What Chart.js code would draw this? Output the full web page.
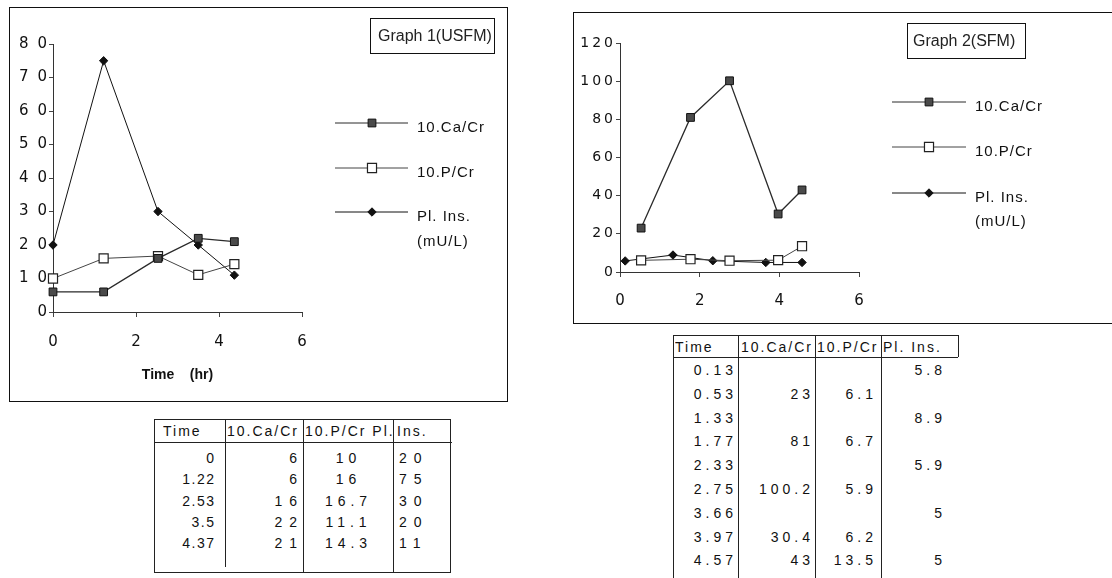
<!DOCTYPE html>
<html><head><meta charset="utf-8">
<title>Graph 1 (USFM) and Graph 2 (SFM)</title>
<script src="https://cdn.jsdelivr.net/npm/chart.js@4.4.1/dist/chart.umd.min.js"></script>
<style>
html,body{margin:0;padding:0;background:#fff;}
body{width:1112px;height:578px;overflow:hidden;position:relative;font-family:"Liberation Sans",Arial,sans-serif;color:#111;}
.frame{position:absolute;box-sizing:border-box;border:1px solid #111;}
.tbox{position:absolute;box-sizing:border-box;border:1px solid #111;font-size:16px;display:flex;align-items:center;color:#222;white-space:nowrap;}
canvas{position:absolute;}
.hl{position:absolute;height:0;border-top:1px solid #222;}
.vl{position:absolute;width:0;border-left:1px solid #222;}
.cell{position:absolute;font-size:14px;white-space:nowrap;line-height:16px;height:16px;color:#111;overflow:hidden;}
</style></head><body>
<div class="frame" style="left:9px;top:7px;width:499px;height:395px"></div>
<canvas id="c1" width="496" height="392" style="left:10px;top:8px"></canvas>
<div class="tbox" style="left:370px;top:18px;width:125px;height:36px;padding-left:7px">Graph 1(USFM)</div>
<div class="frame" style="left:573px;top:12px;width:600px;height:312px"></div>
<canvas id="c2" width="538" height="310" style="left:574px;top:13px"></canvas>
<div class="tbox" style="left:907px;top:23px;width:119px;height:36px;padding-left:5px">Graph 2(SFM)</div>
<div id="t1"></div><div id="t2"></div>
<script>
// ---------- data ----------
const times1 = [0, 1.22, 2.53, 3.5, 4.37];
const caCr1  = [6, 6, 16, 22, 21];
const pCr1   = [10, 16, 16.7, 11.1, 14.3];
const plIns1 = [20, 75, 30, 20, 11];

const times2 = [0.13, 0.53, 1.33, 1.77, 2.33, 2.75, 3.66, 3.97, 4.57];
const caCr2  = [null, 23, null, 81, null, 100.2, null, 30.4, 43];
const pCr2   = [null, 6.1, null, 6.7, null, 5.9, null, 6.2, 13.5];
const plIns2 = [5.8, null, 8.9, null, 5.9, null, 5, null, 5];

const seriesNames = ['10.Ca/Cr', '10.P/Cr', 'Pl. Ins.'];
const seriesSub   = ['', '', '(mU/L)'];
const xTicks  = [0, 2, 4, 6];
const yTicks1 = [0, 10, 20, 30, 40, 50, 60, 70, 80];
const yTicks2 = [0, 20, 40, 60, 80, 100, 120];
const xTitle1 = 'Time    (hr)';
const header1 = ['Time', '10.Ca/Cr', '10.P/Cr Pl.', 'Ins.'];
const header2 = ['Time', '10.Ca/Cr', '10.P/Cr', 'Pl. Ins.'];

// ---------- helpers ----------
const pts = (xs, ys) => xs.map((x, i) => ({x: x, y: ys[i]})).filter(p => p.y !== null);

const styles = [
  {borderColor:'#2a2a2a', borderWidth:1.3, pointStyle:'rect', pointRadius:5.5, pointBackgroundColor:'#4a4a4a', pointBorderColor:'#111', pointBorderWidth:1},
  {borderColor:'#444', borderWidth:1, pointStyle:'rect', pointRadius:6.4, pointBackgroundColor:'#fff', pointBorderColor:'#222', pointBorderWidth:1.2},
  {borderColor:'#111', borderWidth:1, pointStyle:'rectRot', pointRadius:4.2, pointBackgroundColor:'#111', pointBorderColor:'#111', pointBorderWidth:1}
];

function drawMarker(ctx, ds, x, y) {
  ctx.save();
  ctx.fillStyle = ds.pointBackgroundColor;
  ctx.strokeStyle = ds.pointBorderColor;
  ctx.lineWidth = ds.pointBorderWidth;
  ctx.beginPath();
  const r = ds.pointRadius;
  if (ds.pointStyle === 'rect') {
    const h = r * Math.SQRT1_2;
    ctx.rect(x - h, y - h, 2 * h, 2 * h);
  } else {
    ctx.moveTo(x, y - r); ctx.lineTo(x + r, y); ctx.lineTo(x, y + r); ctx.lineTo(x - r, y); ctx.closePath();
  }
  ctx.fill(); ctx.stroke();
  ctx.restore();
}

const sideLegend = {
  id: 'sideLegend',
  afterDatasetsDraw(chart, args, o) {
    const ctx = chart.ctx;
    chart.data.datasets.forEach((ds, i) => {
      const y = o.rows[i];
      ctx.save();
      ctx.strokeStyle = ds.borderColor; ctx.lineWidth = 1;
      ctx.beginPath(); ctx.moveTo(o.x1, y); ctx.lineTo(o.x2, y); ctx.stroke();
      drawMarker(ctx, ds, o.xm, y);
      ctx.fillStyle = '#111';
      ctx.font = '15px "Liberation Sans", Arial, sans-serif';
      ctx.letterSpacing = '1px';
      ctx.textBaseline = 'middle'; ctx.textAlign = 'left';
      ctx.fillText(seriesNames[i], o.xt, y + 5);
      if (seriesSub[i]) ctx.fillText(seriesSub[i], o.xt, o.subY);
      ctx.restore();
    });
  }
};

function yScale(ticks, width, ls, fontSize, pad) {
  return {
    type: 'linear', min: ticks[0], max: ticks[ticks.length - 1],
    afterBuildTicks: s => { s.ticks = ticks.map(v => ({value: v})); },
    afterFit: s => {
      s.width = width;
      if (!s.__ls) {
        const orig = s.drawLabels;
        s.drawLabels = function (a) { const c = this.ctx; c.save(); c.letterSpacing = ls; orig.call(this, a); c.restore(); };
        s.__ls = true;
      }
    },
    ticks: {color:'#111', padding: pad, font:{family:'"DejaVu Sans", "Liberation Sans", sans-serif', size: fontSize}},
    grid: {display:true, drawOnChartArea:false, drawTicks:true, tickLength:4, color:'#444'},
    border: {display:true, color:'#333', width:1}
  };
}
function xScale(height, pad, title) {
  return {
    type: 'linear', min: xTicks[0], max: xTicks[xTicks.length - 1],
    afterBuildTicks: s => { s.ticks = xTicks.map(v => ({value: v})); },
    afterFit: s => { s.height = height; },
    ticks: {color:'#111', padding: pad, font:{family:'"DejaVu Sans", "Liberation Sans", sans-serif', size:15}},
    grid: {display:true, drawOnChartArea:false, drawTicks:true, tickLength:5, color:'#444'},
    border: {display:true, color:'#333', width:1},
    title: title ? {display:true, text:title, color:'#111', font:{family:'"Liberation Sans", Arial, sans-serif', size:14, weight:'bold'}, padding:{top:0, bottom:16.6}} : {display:false}
  };
}
function datasets(xs, a, b, c) {
  return [a, b, c].map((ys, i) => Object.assign({label: seriesNames[i], data: pts(xs, ys), clip: false, tension: 0, fill: false}, styles[i]));
}

new Chart(document.getElementById('c1'), {
  type: 'line',
  data: {datasets: datasets(times1, caCr1, pCr1, plIns1)},
  options: {
    responsive: false, animation: false, events: [],
    layout: {padding: {left:0, top:36, right:204, bottom:0}},
    plugins: {legend:{display:false}, tooltip:{enabled:false},
      sideLegend: {x1:325, x2:398, xm:362, xt:407, rows:[115, 160, 204], subY:234}},
    scales: {x: xScale(88, 16, xTitle1), y: yScale(yTicks1, 43, '9px', 15, -7)}
  },
  plugins: [sideLegend]
});

new Chart(document.getElementById('c2'), {
  type: 'line',
  data: {datasets: datasets(times2, caCr2, pCr2, plIns2)},
  options: {
    responsive: false, animation: false, events: [],
    layout: {padding: {left:0, top:30, right:253, bottom:0}},
    plugins: {legend:{display:false}, tooltip:{enabled:false},
      sideLegend: {x1:318, x2:392, xm:355, xt:401, rows:[89, 134, 180], subY:209}},
    scales: {x: xScale(51, 15, null), y: yScale(yTicks2, 46, '3px', 14, 0)}
  },
  plugins: [sideLegend]
});

// ---------- tables ----------
function buildTable(el, spec) {
  let html = '';
  spec.h.forEach(l => { html += `<div class="hl" style="left:${l[1]}px;top:${l[0]}px;width:${l[2]-l[1]}px"></div>`; });
  spec.v.forEach(l => { html += `<div class="vl" style="left:${l[0]}px;top:${l[1]}px;height:${l[2]-l[1]}px"></div>`; });
  spec.header.forEach((t, i) => {
    const hx = spec.headX[i];
    html += `<div class="cell" style="left:${hx[0]}px;top:${spec.headY - 8}px;width:${hx[1]}px;letter-spacing:${spec.headLS}px">${t}</div>`;
  });
  spec.cols.forEach(col => {
    col.values.forEach((v, r) => {
      if (v === null) return;
      const y = spec.rowY0 + r * spec.rowH - 8;
      let left, align;
      if (col.align === 'right') { left = col.x - 100 + col.ls; align = 'right'; }
      else if (col.align === 'center') { left = col.x - 50 + col.ls / 2; align = 'center'; }
      else { left = col.x; align = 'left'; }
      html += `<div class="cell" style="left:${left}px;top:${y}px;width:100px;text-align:${align};letter-spacing:${col.ls}px">${String(v)}</div>`;
    });
  });
  el.innerHTML = html;
}

buildTable(document.getElementById('t1'), {
  h: [[419,154,450],[442,154,452],[572,154,450]],
  v: [[154,419,573],[225,419,567],[303,419,573],[393,419,573],[450,419,573]],
  header: header1, headY: 431, headLS: 2,
  headX: [[163,60],[227,76],[305,88],[397,52]],
  rowY0: 458, rowH: 21.3,
  cols: [
    {values: times1, x: 214, align:'right', ls: 1.5},
    {values: caCr1, x: 297, align:'right', ls: 7},
    {values: pCr1, x: 346, align:'center', ls: 5},
    {values: plIns1, x: 399, align:'left', ls: 7}
  ]
});

buildTable(document.getElementById('t2'), {
  h: [[335,673,958],[357,673,958]],
  v: [[673,335,580],[738,335,580],[815,335,580],[881,335,580],[958,335,357]],
  header: header2, headY: 347, headLS: 2,
  headX: [[675,62],[741,73],[817,63],[883,74]],
  rowY0: 370, rowH: 23.8,
  cols: [
    {values: times2, x: 733, align:'right', ls: 4},
    {values: caCr2, x: 810, align:'right', ls: 4},
    {values: pCr2, x: 873, align:'right', ls: 4},
    {values: plIns2, x: 942, align:'right', ls: 4}
  ]
});
</script>
</body></html>
